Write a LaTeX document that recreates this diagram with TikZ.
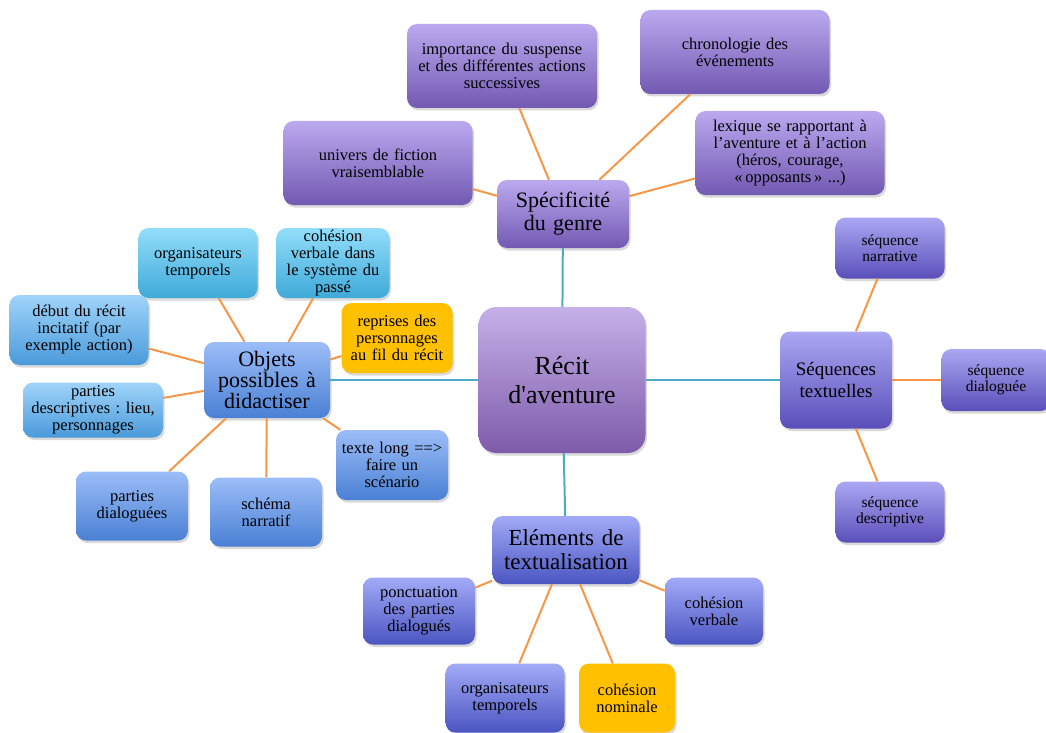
\documentclass[tikz,border=0pt]{standalone}
\usepackage{fontspec}
\setmainfont{Liberation Serif}
\usetikzlibrary{shadows}
\frenchspacing

\definecolor{linkorange}{HTML}{F79646}
\definecolor{linkcyan}{HTML}{4BACC6}
\definecolor{gold}{HTML}{FFC000}

\tikzset{
  box/.style={rounded corners=10pt, align=center, inner xsep=0pt, inner ysep=1pt,
    font=\fontsize{16.5}{17}\selectfont,
    drop shadow={opacity=0.3, shadow xshift=1.5pt, shadow yshift=-2.5pt}},
  sz/.style 2 args={text width=#1, minimum height=#2},
  small/.style={font=\fontsize{15.5}{16}\selectfont},
  violetbox/.style={box, top color={rgb,255:red,187;green,169;blue,239}, bottom color={rgb,255:red,114;green,89;blue,178}},
  rootbox/.style={box, rounded corners=18pt, top color={rgb,255:red,197;green,176;blue,232}, bottom color={rgb,255:red,126;green,91;blue,170}},
  indigobox/.style={box, top color={rgb,255:red,171;green,167;blue,242}, bottom color={rgb,255:red,90;green,79;blue,185}},
  navybox/.style={box, top color={rgb,255:red,162;green,170;blue,247}, bottom color={rgb,255:red,75;green,85;blue,193}},
  bluebox/.style={box, top color={rgb,255:red,156;green,189;blue,248}, bottom color={rgb,255:red,74;green,128;blue,212}},
  skybox/.style={box, top color={rgb,255:red,160;green,212;blue,250}, bottom color={rgb,255:red,74;green,154;blue,218}},
  cyanbox/.style={box, top color={rgb,255:red,146;green,222;blue,251}, bottom color={rgb,255:red,63;green,169;blue,216}},
  goldbox/.style={box, fill=gold},
  trunk/.style={draw=linkcyan, line width=2pt},
  branch/.style={draw=linkorange, line width=2pt},
}

\begin{document}
\begin{tikzpicture}[x=1pt, y={(0pt,-1pt)}]
  \useasboundingbox (0,0) rectangle (1046,733);

  % centre
  \node[rootbox, sz={167pt}{146pt}, font=\fontsize{26}{29}\selectfont] (recit) at (562,380) {Récit\\d\textquotesingle aventure};

  % specificite du genre
  \node[violetbox, sz={132pt}{68pt}, font=\fontsize{22}{23}\selectfont] (spec) at (563,214) {Spécificité\\du genre};
  \node[violetbox, sz={190pt}{84pt}] (suspense) at (502,66) {importance du suspense\\et des différentes actions\\successives};
  \node[violetbox, sz={189pt}{84pt}] (chrono) at (735,52) {chronologie des\\événements};
  \node[violetbox, sz={189pt}{84pt}] (univers) at (378,163) {univers de fiction\\vraisemblable};
  \node[violetbox, sz={189pt}{84pt}] (lexique) at (790,153) {lexique se rapportant à\\l’aventure et à l’action\\(héros, courage,\\«\,opposants\,» ...)};

  % sequences textuelles
  \node[indigobox, sz={112pt}{97pt}, font=\fontsize{19}{22}\selectfont] (seq) at (836,380) {Séquences\\textuelles};
  \node[indigobox, small, sz={109pt}{61pt}] (narr) at (890,248) {séquence\\narrative};
  \node[indigobox, small, sz={109pt}{62pt}] (dial) at (996,380) {séquence\\dialoguée};
  \node[indigobox, small, sz={109pt}{61pt}] (descr) at (890,512) {séquence\\descriptive};

  % elements de textualisation
  \node[navybox, sz={147pt}{68pt}, font=\fontsize{23}{24}\selectfont] (elem) at (566,550) {Eléments de\\textualisation};
  \node[navybox, sz={112pt}{67pt}] (ponct) at (419,611) {ponctuation\\des parties\\dialogués};
  \node[navybox, sz={98pt}{67pt}] (cohverb) at (714,611) {cohésion\\verbale};
  \node[navybox, sz={119pt}{69pt}] (orgbas) at (505,698) {organisateurs\\temporels};
  \node[goldbox, sz={96pt}{69pt}] (cohnom) at (627,698) {cohésion\\nominale};

  % objets possibles a didactiser
  \node[bluebox, sz={126pt}{76pt}, font=\fontsize{22}{21}\selectfont] (objets) at (267,380) {Objets\\possibles à\\didactiser};
  \node[cyanbox, sz={119pt}{70pt}] (orghaut) at (198,263) {organisateurs\\temporels};
  \node[cyanbox, sz={113pt}{70pt}] (passe) at (333,263) {cohésion\\verbale dans\\le système du\\passé};
  \node[skybox, sz={139pt}{70pt}] (debut) at (79,330) {début du récit\\incitatif (par\\exemple action)};
  \node[goldbox, sz={111pt}{70pt}] (reprises) at (397,338) {reprises des\\personnages\\au fil du récit};
  \node[skybox, sz={140pt}{55pt}] (partdesc) at (93,410) {parties\\descriptives : lieu,\\personnages};
  \node[bluebox, sz={112pt}{70pt}] (texte) at (392,465) {texte long ==>\\faire un\\scénario};
  \node[bluebox, sz={112pt}{69pt}] (partdial) at (132,506) {parties\\dialoguées};
  \node[bluebox, sz={112pt}{69pt}] (schema) at (266,512) {schéma\\narratif};

  % liens principaux
  \draw[trunk] (recit) -- (spec);
  \draw[trunk] (recit) -- (objets);
  \draw[trunk] (recit) -- (seq);
  \draw[trunk] (recit) -- (elem);

  % liens secondaires
  \foreach \leaf in {suspense, chrono, univers, lexique}
    \draw[branch] (spec) -- (\leaf);
  \foreach \leaf in {narr, dial, descr}
    \draw[branch] (seq) -- (\leaf);
  \foreach \leaf in {ponct, cohverb, orgbas, cohnom}
    \draw[branch] (elem) -- (\leaf);
  \foreach \leaf in {orghaut, passe, debut, reprises, partdesc, texte, partdial, schema}
    \draw[branch] (objets) -- (\leaf);
\end{tikzpicture}
\end{document}
